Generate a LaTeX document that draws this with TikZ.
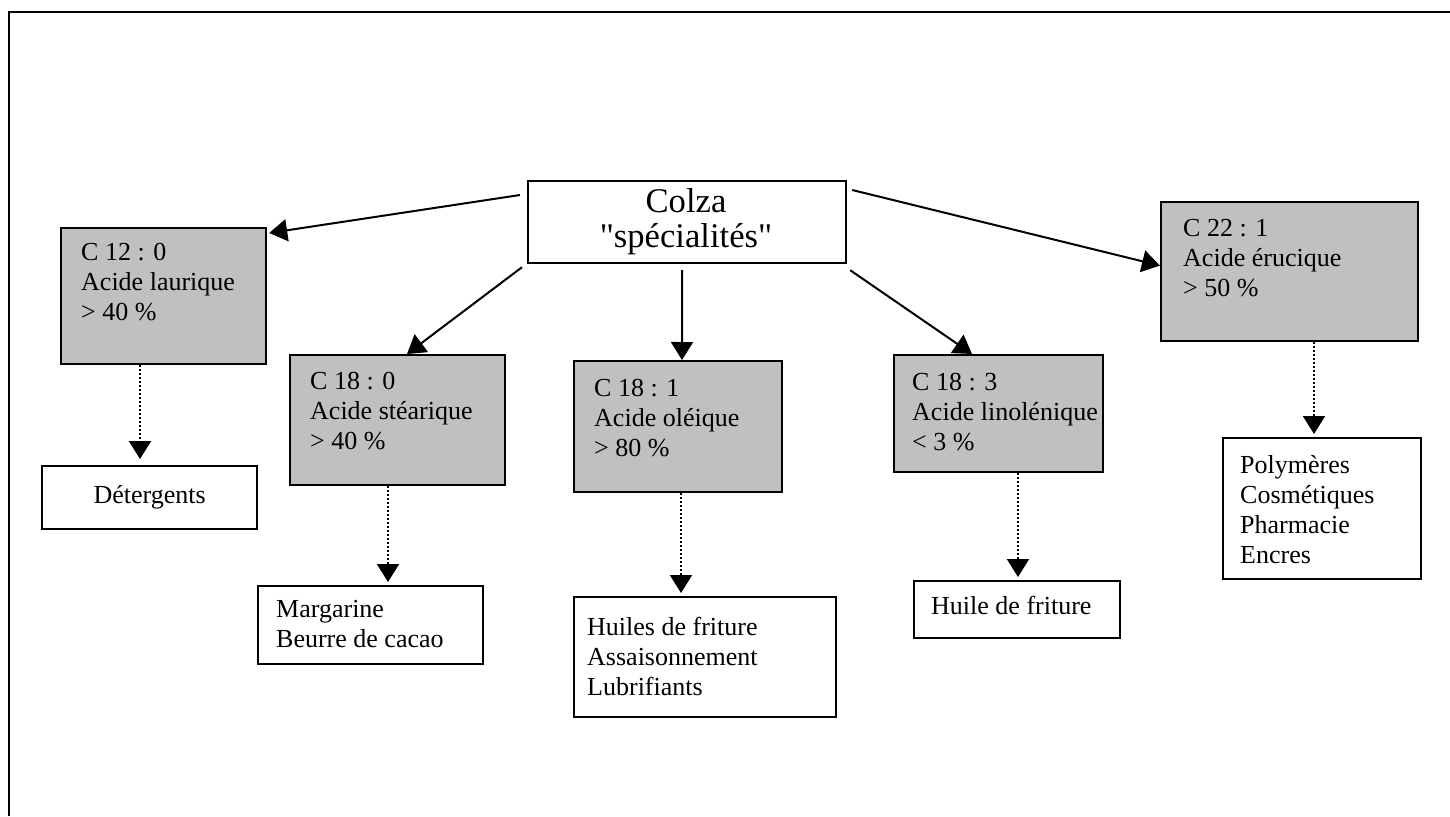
\documentclass[tikz,border=0pt]{standalone}
\usepackage{fontspec}
\setmainfont{Liberation Serif}
\usepackage{xcolor}
\usetikzlibrary{arrows.meta,positioning}
\definecolor{boxgray}{RGB}{192,192,192}

\begin{document}
\begin{tikzpicture}[x=1pt,y=-1pt,
   every node/.style={font=\fontsize{26}{30}\selectfont, inner sep=0pt},
   acide/.style={draw, line width=2.2pt, fill=boxgray, anchor=north west},
   usage/.style={draw, line width=2.2pt, fill=white, anchor=north west},
   txt/.style={anchor=north west, align=left},
   link/.style={->, line width=2pt},
   hint/.style={->, line width=2pt, dash pattern=on 2pt off 2pt, shorten >=3pt},
   >={Triangle[length=18pt,width=22pt]}]
   \useasboundingbox (0,0) rectangle (1450,816);
   \draw[line width=2.8pt] (9,816) -- (9,12) -- (1450,12);

   % source
   \node[usage, minimum width=318pt, minimum height=82pt] (colza) at (527,180) {};
   \node[anchor=north, align=center, font=\fontsize{34.6}{35}\selectfont] (colzat) at (686,188) {Colza\\\textquotedbl spécialités\textquotedbl};

   % acides gras
   \node[acide, minimum width=205pt, minimum height=136pt] (laur) at (60,227) {};
   \node[txt] (laurt) at (81,243) {C 12 : 0\\Acide laurique\\> 40 \%};
   \node[acide, minimum width=215pt, minimum height=130pt] (stear) at (289,354) {};
   \node[txt] (steart) at (310,372) {C 18 : 0\\Acide stéarique\\> 40 \%};
   \node[acide, minimum width=208pt, minimum height=131pt] (ole) at (573,360) {};
   \node[txt] (olet) at (594,379) {C 18 : 1\\Acide oléique\\> 80 \%};
   \node[acide, minimum width=209pt, minimum height=117pt] (lino) at (893,354) {};
   \node[txt] (linot) at (912,373) {C 18 : 3\\Acide linolénique\\< 3 \%};
   \node[acide, minimum width=257pt, minimum height=139pt] (eruc) at (1160,201) {};
   \node[txt] (eruct) at (1183,219) {C 22 : 1\\Acide érucique\\> 50 \%};

   % usages
   \node[usage, minimum width=215pt, minimum height=63pt] (det) at (41,465) {Détergents};
   \node[usage, minimum width=225pt, minimum height=78pt] (marg) at (257,585) {};
   \node[txt] (margt) at (276,600) {Margarine\\Beurre de cacao};
   \node[usage, minimum width=262pt, minimum height=120pt] (huil) at (573,596) {};
   \node[txt] (huilt) at (587,617) {Huiles de friture\\Assaisonnement\\Lubrifiants};
   \node[usage, minimum width=206pt, minimum height=57pt] (hdf) at (913,580) {};
   \node[txt] (hdft) at (931,596) {Huile de friture};
   \node[usage, minimum width=198pt, minimum height=141pt] (poly) at (1222,437) {};
   \node[txt] (polyt) at (1240,455) {Polymères\\Cosmétiques\\Pharmacie\\Encres};

   \draw[link] ([xshift=-7pt,yshift=-15pt]colza.north west) -- ([xshift=2pt,yshift=-6pt]laur.north east);
   \draw[link] ([xshift=-5pt,yshift=-3pt]colza.south west) -- ([xshift=118pt]stear.north west);
   \draw[link] ([xshift=-5pt,yshift=-6pt]colza.south) -- ([xshift=109pt]ole.north west);
   \draw[link] ([xshift=3pt,yshift=-6pt]colza.south east) -- ([xshift=79pt]lino.north west);
   \draw[link] ([xshift=5pt,yshift=-10pt]colza.north east) -- ([yshift=6pt]eruc.west);

   \draw[hint, shorten >=6pt] ([xshift=80pt]laur.south west) -- ([xshift=99pt]det.north west);
   \draw[hint] ([xshift=99pt]stear.south west) -- ([xshift=131pt]marg.north west);
   \draw[hint] ([xshift=108pt]ole.south west) -- ([xshift=108pt]huil.north west);
   \draw[hint] ([xshift=125pt]lino.south west) -- ([xshift=105pt]hdf.north west);
   \draw[hint] ([xshift=154pt]eruc.south west) -- ([xshift=92pt]poly.north west);
\end{tikzpicture}
\end{document}
